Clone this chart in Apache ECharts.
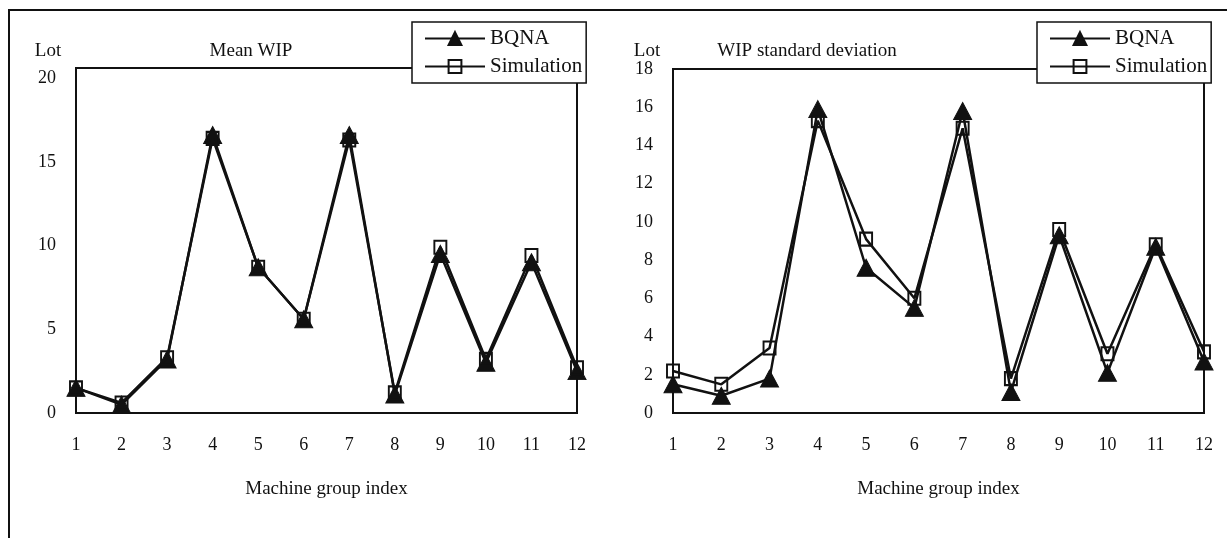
<!DOCTYPE html>
<html>
<head>
<meta charset="utf-8">
<script src="https://cdn.jsdelivr.net/npm/echarts@6/dist/echarts.min.js"></script>
<style>
  html, body { margin: 0; padding: 0; background: #fff; }
  #wrap { position: relative; width: 1227px; height: 538px; }
  #chart { width: 1227px; height: 538px; }
  #frame { position: absolute; left: 8px; top: 9px; right: 0; bottom: 0;
           border-top: 2px solid #111; border-left: 2px solid #111; pointer-events: none; }
</style>
</head>
<body>
<div id="wrap">
  <div id="chart"></div>
  <div id="frame"></div>
</div>
<script>
// machine groups 1..12
const groups = ['1', '2', '3', '4', '5', '6', '7', '8', '9', '10', '11', '12'];

// Mean WIP (lots)
const meanBqna = [1.5, 0.5, 3.2, 16.6, 8.7, 5.6, 16.6, 1.1, 9.5, 3.0, 9.0, 2.5];
const meanSim = [1.5, 0.6, 3.3, 16.4, 8.7, 5.6, 16.3, 1.2, 9.9, 3.2, 9.4, 2.7];

// WIP standard deviation (lots)
const sdBqna = [1.5, 0.9, 1.8, 15.9, 7.6, 5.5, 15.8, 1.1, 9.3, 2.1, 8.7, 2.7];
const sdSim = [2.2, 1.5, 3.4, 15.3, 9.1, 6.0, 14.9, 1.8, 9.6, 3.1, 8.8, 3.2];

const serif = '"Liberation Serif", "DejaVu Serif", serif';
const ink = '#111';

const chart = echarts.init(document.getElementById('chart'));

function xAxisFor(gridIndex) {
  return {
    type: 'category',
    gridIndex: gridIndex,
    data: groups,
    boundaryGap: false,
    axisLine: { lineStyle: { color: ink, width: 2 } },
    axisTick: { show: false },
    axisLabel: { color: ink, fontFamily: serif, fontSize: 18, margin: 23 },
    name: 'Machine group index',
    nameLocation: 'middle',
    nameGap: 67,
    nameTextStyle: { color: ink, fontFamily: serif, fontSize: 19 }
  };
}

// the scanned frame runs a little past the last labelled tick
function yAxisFor(gridIndex, max, interval) {
  return {
    type: 'value',
    gridIndex: gridIndex,
    min: 0,
    max: max,
    interval: interval,
    axisLine: { show: true, lineStyle: { color: ink, width: 2 } },
    axisTick: { show: false },
    splitLine: { show: false },
    axisLabel: {
      color: ink, fontFamily: serif, fontSize: 18, margin: 20,
      formatter: v => (v % interval === 0 ? String(v) : '')
    }
  };
}

function lineSeries(name, data, gridIndex, isBqna) {
  return {
    name: name,
    type: 'line',
    xAxisIndex: gridIndex,
    yAxisIndex: gridIndex,
    data: data,
    symbol: isBqna ? 'triangle' : 'rect',
    symbolSize: isBqna ? [18, 17] : [12, 13],
    showAllSymbol: true,
    lineStyle: { color: ink, width: 2.5 },
    itemStyle: isBqna
      ? { color: ink, borderColor: ink, borderWidth: 1 }
      : { color: 'rgba(255,255,255,0)', borderColor: ink, borderWidth: 2 },
    z: isBqna ? 2 : 3,
    animation: false
  };
}

function legendAt(left, width) {
  return {
    orient: 'vertical',
    left: left,
    top: 22,
    width: width,
    data: ['BQNA', 'Simulation'],
    backgroundColor: '#fff',
    borderColor: ink,
    borderWidth: 1.5,
    padding: [6, 4, 6, 12],
    itemWidth: 60,
    itemHeight: 16,
    itemGap: 7,
    textStyle: { color: ink, fontFamily: serif, fontSize: 21 }
  };
}

const titleStyle = { color: ink, fontFamily: serif, fontSize: 19, fontWeight: 'normal' };

chart.setOption({
  backgroundColor: '#fff',
  animation: false,
  title: [
    { text: 'Lot', left: 43, top: 37, textAlign: 'center', textStyle: titleStyle },
    { text: 'Mean WIP', left: 246, top: 37, textAlign: 'center', textStyle: titleStyle },
    { text: 'Lot', left: 642, top: 37, textAlign: 'center', textStyle: titleStyle },
    { text: 'WIP standard deviation', left: 802, top: 37, textAlign: 'center', textStyle: titleStyle }
  ],
  legend: [legendAt(412, 170), legendAt(1037, 170)],
  grid: [
    { left: 76, top: 68, width: 501, height: 345, show: true, borderColor: ink, borderWidth: 2, backgroundColor: 'transparent' },
    { left: 673, top: 69, width: 531, height: 344, show: true, borderColor: ink, borderWidth: 2, backgroundColor: 'transparent' }
  ],
  xAxis: [xAxisFor(0), xAxisFor(1)],
  yAxis: [yAxisFor(0, 20.6, 5), yAxisFor(1, 18, 2)],
  series: [
    lineSeries('BQNA', meanBqna, 0, true),
    lineSeries('Simulation', meanSim, 0, false),
    lineSeries('BQNA', sdBqna, 1, true),
    lineSeries('Simulation', sdSim, 1, false)
  ]
});
</script>
</body>
</html>
